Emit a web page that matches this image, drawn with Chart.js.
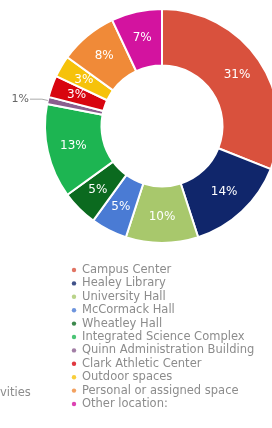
<!DOCTYPE html>
<html>
<head>
<meta charset="utf-8">
<script src="https://cdn.jsdelivr.net/npm/chart.js@4/dist/chart.umd.min.js"></script>
<style>
  html, body { margin: 0; padding: 0; background: #fff; }
  #wrap { position: relative; width: 272px; height: 428px; overflow: hidden; }
  #c { position: absolute; left: 0; top: 0; }
</style>
</head>
<body>
<div id="wrap"><canvas id="c" width="300" height="428"></canvas></div>
<script>
const categories = [
  "Campus Center", "Healey Library", "University Hall", "McCormack Hall",
  "Wheatley Hall", "Integrated Science Complex", "Quinn Administration Building",
  "Clark Athletic Center", "Outdoor spaces", "Personal or assigned space", "Other location:"
];
const percentValues = [31, 14, 10, 5, 5, 13, 1, 3, 3, 8, 7];
const sliceColors = [
  "#d9513d", "#10266b", "#a8c86c", "#4a7bd4", "#0b6a1f", "#1db552",
  "#8b5e8e", "#d8050f", "#f6c20a", "#f08a38", "#d3139f"
];
const outsideLabelIndex = [6];
const sideText = "vities";

const labelPlugin = {
  id: 'sliceLabels',
  afterDatasetsDraw(chart) {
    const ctx = chart.ctx;
    const meta = chart.getDatasetMeta(0);
    ctx.save();
    meta.data.forEach((arc, i) => {
      const p = arc.getProps(['x', 'y', 'startAngle', 'endAngle', 'innerRadius', 'outerRadius'], true);
      const mid = (p.startAngle + p.endAngle) / 2;
      const txt = percentValues[i] + '%';
      if (outsideLabelIndex.includes(i)) {
        const r0 = p.outerRadius;
        const x0 = p.x + Math.cos(mid) * r0, y0 = p.y + Math.sin(mid) * r0;
        const x1 = p.x + Math.cos(mid) * (r0 + 6), y1 = p.y + Math.sin(mid) * (r0 + 6);
        const x2 = x1 - 12;
        ctx.strokeStyle = '#aaa';
        ctx.lineWidth = 1;
        ctx.beginPath();
        ctx.moveTo(x0, y0); ctx.lineTo(x1, y1); ctx.lineTo(x2, y1); ctx.stroke();
        ctx.fillStyle = '#666';
        ctx.font = '11px "DejaVu Sans"';
        ctx.textAlign = 'right';
        ctx.textBaseline = 'middle';
        ctx.fillText(txt, x2 - 1, y1);
      } else {
        const r = (p.innerRadius + p.outerRadius) / 2 + 2;
        const x = p.x + Math.cos(mid) * r, y = p.y + Math.sin(mid) * r;
        ctx.fillStyle = '#ffffff';
        ctx.font = '12px "DejaVu Sans"';
        ctx.textAlign = 'center';
        ctx.textBaseline = 'middle';
        ctx.fillText(txt, x, y);
      }
    });
    ctx.restore();
  },
  afterDraw(chart) {
    const ctx = chart.ctx;
    ctx.save();
    const x0 = 74, y0 = 270, step = 13.4;
    ctx.font = '11.5px "DejaVu Sans"';
    ctx.textBaseline = 'middle';
    ctx.textAlign = 'left';
    categories.forEach((name, i) => {
      const y = y0 + i * step;
      ctx.globalAlpha = 0.8;
      ctx.fillStyle = sliceColors[i];
      ctx.beginPath();
      ctx.arc(x0, y, 2.2, 0, Math.PI * 2);
      ctx.fill();
      ctx.globalAlpha = 1;
      ctx.fillStyle = '#8c8c8c';
      ctx.fillText(name, x0 + 8, y);
    });
    ctx.fillStyle = '#8c8c8c';
    ctx.fillText(sideText, 0, 393);
    ctx.restore();
  }
};

new Chart(document.getElementById('c'), {
  type: 'doughnut',
  data: {
    labels: categories,
    datasets: [{
      data: percentValues,
      backgroundColor: sliceColors,
      borderColor: '#ffffff',
      borderWidth: 2,
      hoverOffset: 0,
      offset: 0
    }]
  },
  options: {
    responsive: false,
    animation: false,
    cutout: 60,
    radius: 117,
    layout: { padding: { left: 45, right: 21, top: 9, bottom: 185 } },
    plugins: { legend: { display: false }, tooltip: { enabled: false } },
    events: []
  },
  plugins: [labelPlugin]
});
</script>
</body>
</html>
